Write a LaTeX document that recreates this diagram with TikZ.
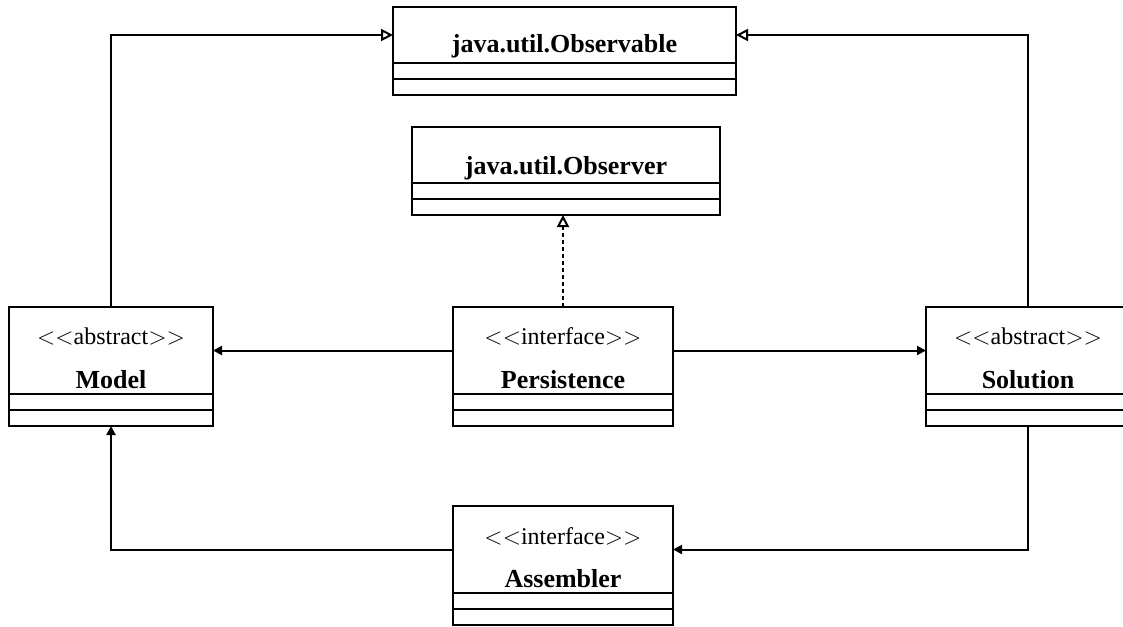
\documentclass[tikz,border=0pt]{standalone}
\usepackage{fontspec}
\setmainfont{Liberation Serif}
\usetikzlibrary{arrows.meta,positioning,calc}
\newcommand{\stereotyp}[1]{$<$$<$#1$>$$>$}
\tikzset{
  klasse/.style={rectangle,draw,line width=1pt,outer sep=0pt,inner sep=0pt,anchor=north west},
  fach/.style={klasse,minimum height=8pt},
  titel/.style={anchor=base,font=\fontsize{13}{15}\selectfont\bfseries},
  stereo/.style={anchor=base,font=\fontsize{12}{14}\selectfont},
  gen/.style={-{Triangle[open,length=6pt,width=6pt]},line width=1pt},
  real/.style={gen,dash pattern=on 2pt off 1.5pt},
  assoz/.style={-{Triangle[length=4.5pt,width=4.5pt]},line width=1pt},
}

\begin{document}
\begin{tikzpicture}[x=0.5pt,y=-0.5pt]
  \clip (0,0) rectangle (1123,626);
  % obere Klassen
  \node[klasse,minimum width=171.5pt,minimum height=28pt] (observable) at (393,7) {};
  \node[fach,below=0pt of observable,minimum width=171.5pt] (observable-a) {};
  \node[fach,below=0pt of observable-a,minimum width=171.5pt] (observable-o) {};
  \node[titel] (observable-n) at ($(observable.north)+(0,46)$) {java.util.Observable};

  \node[klasse,minimum width=154pt,minimum height=28pt] (observer) at (412,127) {};
  \node[fach,below=0pt of observer,minimum width=154pt] (observer-a) {};
  \node[fach,below=0pt of observer-a,minimum width=154pt] (observer-o) {};
  \node[titel] (observer-n) at ($(observer.north)+(0,47)$) {java.util.Observer};

  % mittlere Reihe
  \node[klasse,minimum width=102pt,minimum height=43.5pt] (model) at (9,307) {};
  \node[fach,below=0pt of model,minimum width=102pt] (model-a) {};
  \node[fach,below=0pt of model-a,minimum width=102pt] (model-o) {};
  \node[stereo] (model-s) at ($(model.north)+(0,37)$) {\stereotyp{abstract}};
  \node[titel] (model-n) at ($(model.north)+(0,81)$) {Model};

  \node[klasse,minimum width=110pt,minimum height=43.5pt] (persistence) at (453,307) {};
  \node[fach,below=0pt of persistence,minimum width=110pt] (persistence-a) {};
  \node[fach,below=0pt of persistence-a,minimum width=110pt] (persistence-o) {};
  \node[stereo] (persistence-s) at ($(persistence.north)+(0,37)$) {\stereotyp{interface}};
  \node[titel] (persistence-n) at ($(persistence.north)+(0,81)$) {Persistence};

  \node[klasse,minimum width=102pt,minimum height=43.5pt] (solution) at (926,307) {};
  \node[fach,below=0pt of solution,minimum width=102pt] (solution-a) {};
  \node[fach,below=0pt of solution-a,minimum width=102pt] (solution-o) {};
  \node[stereo] (solution-s) at ($(solution.north)+(0,37)$) {\stereotyp{abstract}};
  \node[titel] (solution-n) at ($(solution.north)+(0,81)$) {Solution};

  % untere Klasse
  \node[klasse,minimum width=110pt,minimum height=43.5pt] (assembler) at (453,506) {};
  \node[fach,below=0pt of assembler,minimum width=110pt] (assembler-a) {};
  \node[fach,below=0pt of assembler-a,minimum width=110pt] (assembler-o) {};
  \node[stereo] (assembler-s) at ($(assembler.north)+(0,38)$) {\stereotyp{interface}};
  \node[titel] (assembler-n) at ($(assembler.north)+(0,81)$) {Assembler};

  % Beziehungen
  \draw[gen] (model.north) |- (observable.west);
  \draw[gen] (solution.north) |- (observable.east);
  \draw[real] (persistence.north) -- (persistence.north |- observer-o.south);
  \draw[assoz] (persistence.west) -- (model.east);
  \draw[assoz] (persistence.east) -- (solution.west);
  \draw[assoz] (solution-o.south) |- (assembler.east);
  \draw[assoz] (assembler.west) -| (model-o.south);
\end{tikzpicture}
\end{document}
